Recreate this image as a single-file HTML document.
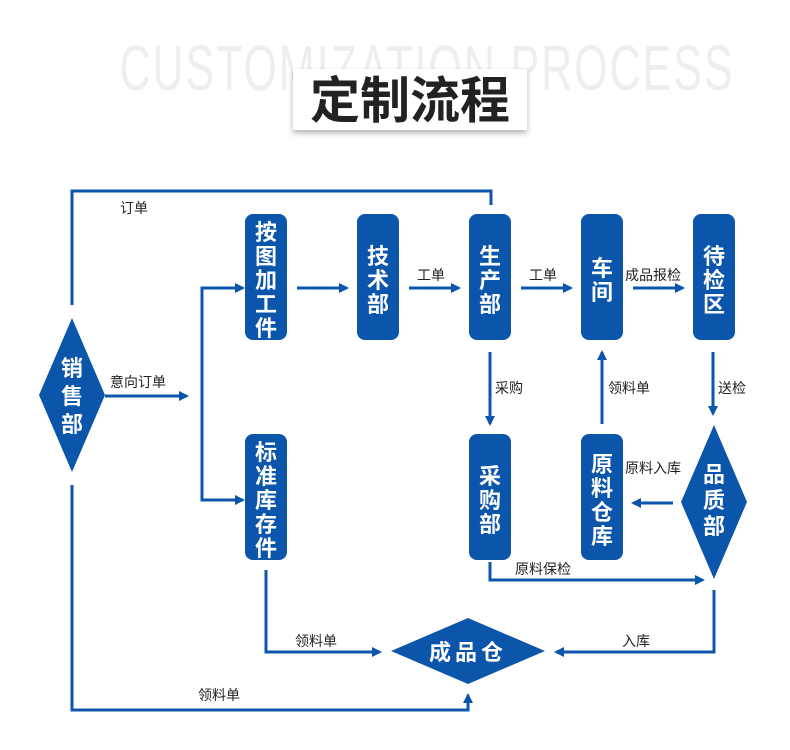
<!DOCTYPE html>
<html><head><meta charset="utf-8"><style>
html,body{margin:0;padding:0;background:#fff;}
svg{display:block;}
text{font-family:"Liberation Sans","Noto Sans CJK SC",sans-serif;}
.l{font-size:14px;fill:#222;}
.w{font-size:22px;fill:#fff;font-weight:bold;text-anchor:middle;}
</style></head><body>
<svg width="790" height="750" viewBox="0 0 790 750" xmlns="http://www.w3.org/2000/svg">
<defs>
<marker id="a" markerWidth="10" markerHeight="10" refX="8" refY="5" orient="auto" markerUnits="userSpaceOnUse">
<path d="M0,0 L10,5 L0,10 Z" fill="#0b55ab"/></marker>
<filter id="sh" x="-10%" y="-10%" width="120%" height="140%"><feDropShadow dx="0" dy="3" stdDeviation="3" flood-color="#000" flood-opacity="0.3"/></filter>
</defs>
<text x="427" y="90" text-anchor="middle" style="font-family:'Liberation Sans Narrow','Liberation Sans',sans-serif;font-size:64px;fill:#eeeeee;letter-spacing:3px" textLength="615" lengthAdjust="spacingAndGlyphs">CUSTOMIZATION PROCESS</text>
<rect x="293" y="69" width="234" height="61" fill="#fff" filter="url(#sh)"/>
<text x="410" y="118" text-anchor="middle" style="font-size:50px;font-weight:600;fill:#222">定制流程</text>

<g fill="#0b55ab">
<rect x="245" y="214" width="42" height="126" rx="8"/>
<rect x="357" y="214" width="42" height="126" rx="8"/>
<rect x="469" y="214" width="42" height="126" rx="8"/>
<rect x="581" y="214" width="42" height="126" rx="8"/>
<rect x="693" y="214" width="42" height="126" rx="8"/>
<rect x="245" y="434" width="42" height="126" rx="8"/>
<rect x="469" y="434" width="42" height="126" rx="8"/>
<rect x="581" y="434" width="42" height="126" rx="8"/>
<polygon points="72,318 105,395 72,472 39,395"/>
<polygon points="714,425 747,502 714,579 681,502"/>
<polygon points="468,618 545,651 468,684 391,651"/>
</g>

<g class="w">
<text x="266" y="240">按</text><text x="266" y="264">图</text><text x="266" y="288">加</text><text x="266" y="312">工</text><text x="266" y="336">件</text>
<text x="378" y="264">技</text><text x="378" y="288">术</text><text x="378" y="312">部</text>
<text x="490" y="264">生</text><text x="490" y="288">产</text><text x="490" y="312">部</text>
<text x="602" y="276">车</text><text x="602" y="300">间</text>
<text x="714" y="264">待</text><text x="714" y="288">检</text><text x="714" y="312">区</text>
<text x="266" y="460">标</text><text x="266" y="484">准</text><text x="266" y="508">库</text><text x="266" y="532">存</text><text x="266" y="556">件</text>
<text x="490" y="484">采</text><text x="490" y="508">购</text><text x="490" y="532">部</text>
<text x="602" y="472">原</text><text x="602" y="496">料</text><text x="602" y="520">仓</text><text x="602" y="544">库</text>
<text x="72" y="376">销</text><text x="72" y="404">售</text><text x="72" y="432">部</text>
<text x="714" y="482">品</text><text x="714" y="508">质</text><text x="714" y="534">部</text>
<text x="468" y="660" style="letter-spacing:4px">成品仓</text>
</g>

<g stroke="#0b55ab" stroke-width="3" fill="none">
<polyline points="72,305 72,191 491,191 491,205"/>
<line x1="105" y1="396" x2="187" y2="396" marker-end="url(#a)"/>
<polyline points="243,288 202,288 202,500 243,500" marker-end="url(#a)"/>
<line x1="202" y1="288" x2="243" y2="288" marker-end="url(#a)"/>
<line x1="297" y1="288" x2="347" y2="288" marker-end="url(#a)"/>
<line x1="409" y1="288" x2="459" y2="288" marker-end="url(#a)"/>
<line x1="521" y1="288" x2="571" y2="288" marker-end="url(#a)"/>
<line x1="633" y1="288" x2="683" y2="288" marker-end="url(#a)"/>
<line x1="490" y1="352" x2="490" y2="424" marker-end="url(#a)"/>
<line x1="602" y1="424" x2="602" y2="352" marker-end="url(#a)"/>
<line x1="713" y1="352" x2="713" y2="414" marker-end="url(#a)"/>
<line x1="673" y1="503" x2="633" y2="503" marker-end="url(#a)"/>
<polyline points="490,562 490,580 703,580" marker-end="url(#a)"/>
<polyline points="714,590 714,652 556,652" marker-end="url(#a)"/>
<polyline points="266,570 266,652 380,652" marker-end="url(#a)"/>
<polyline points="72,485 72,710 468,710 468,695" marker-end="url(#a)"/>
</g>

<g class="l">
<text x="120" y="213">订单</text>
<text x="110" y="387">意向订单</text>
<text x="417" y="280">工单</text>
<text x="529" y="280">工单</text>
<text x="625" y="280">成品报检</text>
<text x="495" y="393">采购</text>
<text x="608" y="393">领料单</text>
<text x="718" y="393">送检</text>
<text x="625" y="473">原料入库</text>
<text x="515" y="574">原料保检</text>
<text x="622" y="646">入库</text>
<text x="295" y="646">领料单</text>
<text x="198" y="700">领料单</text>
</g>
</svg>
</body></html>
